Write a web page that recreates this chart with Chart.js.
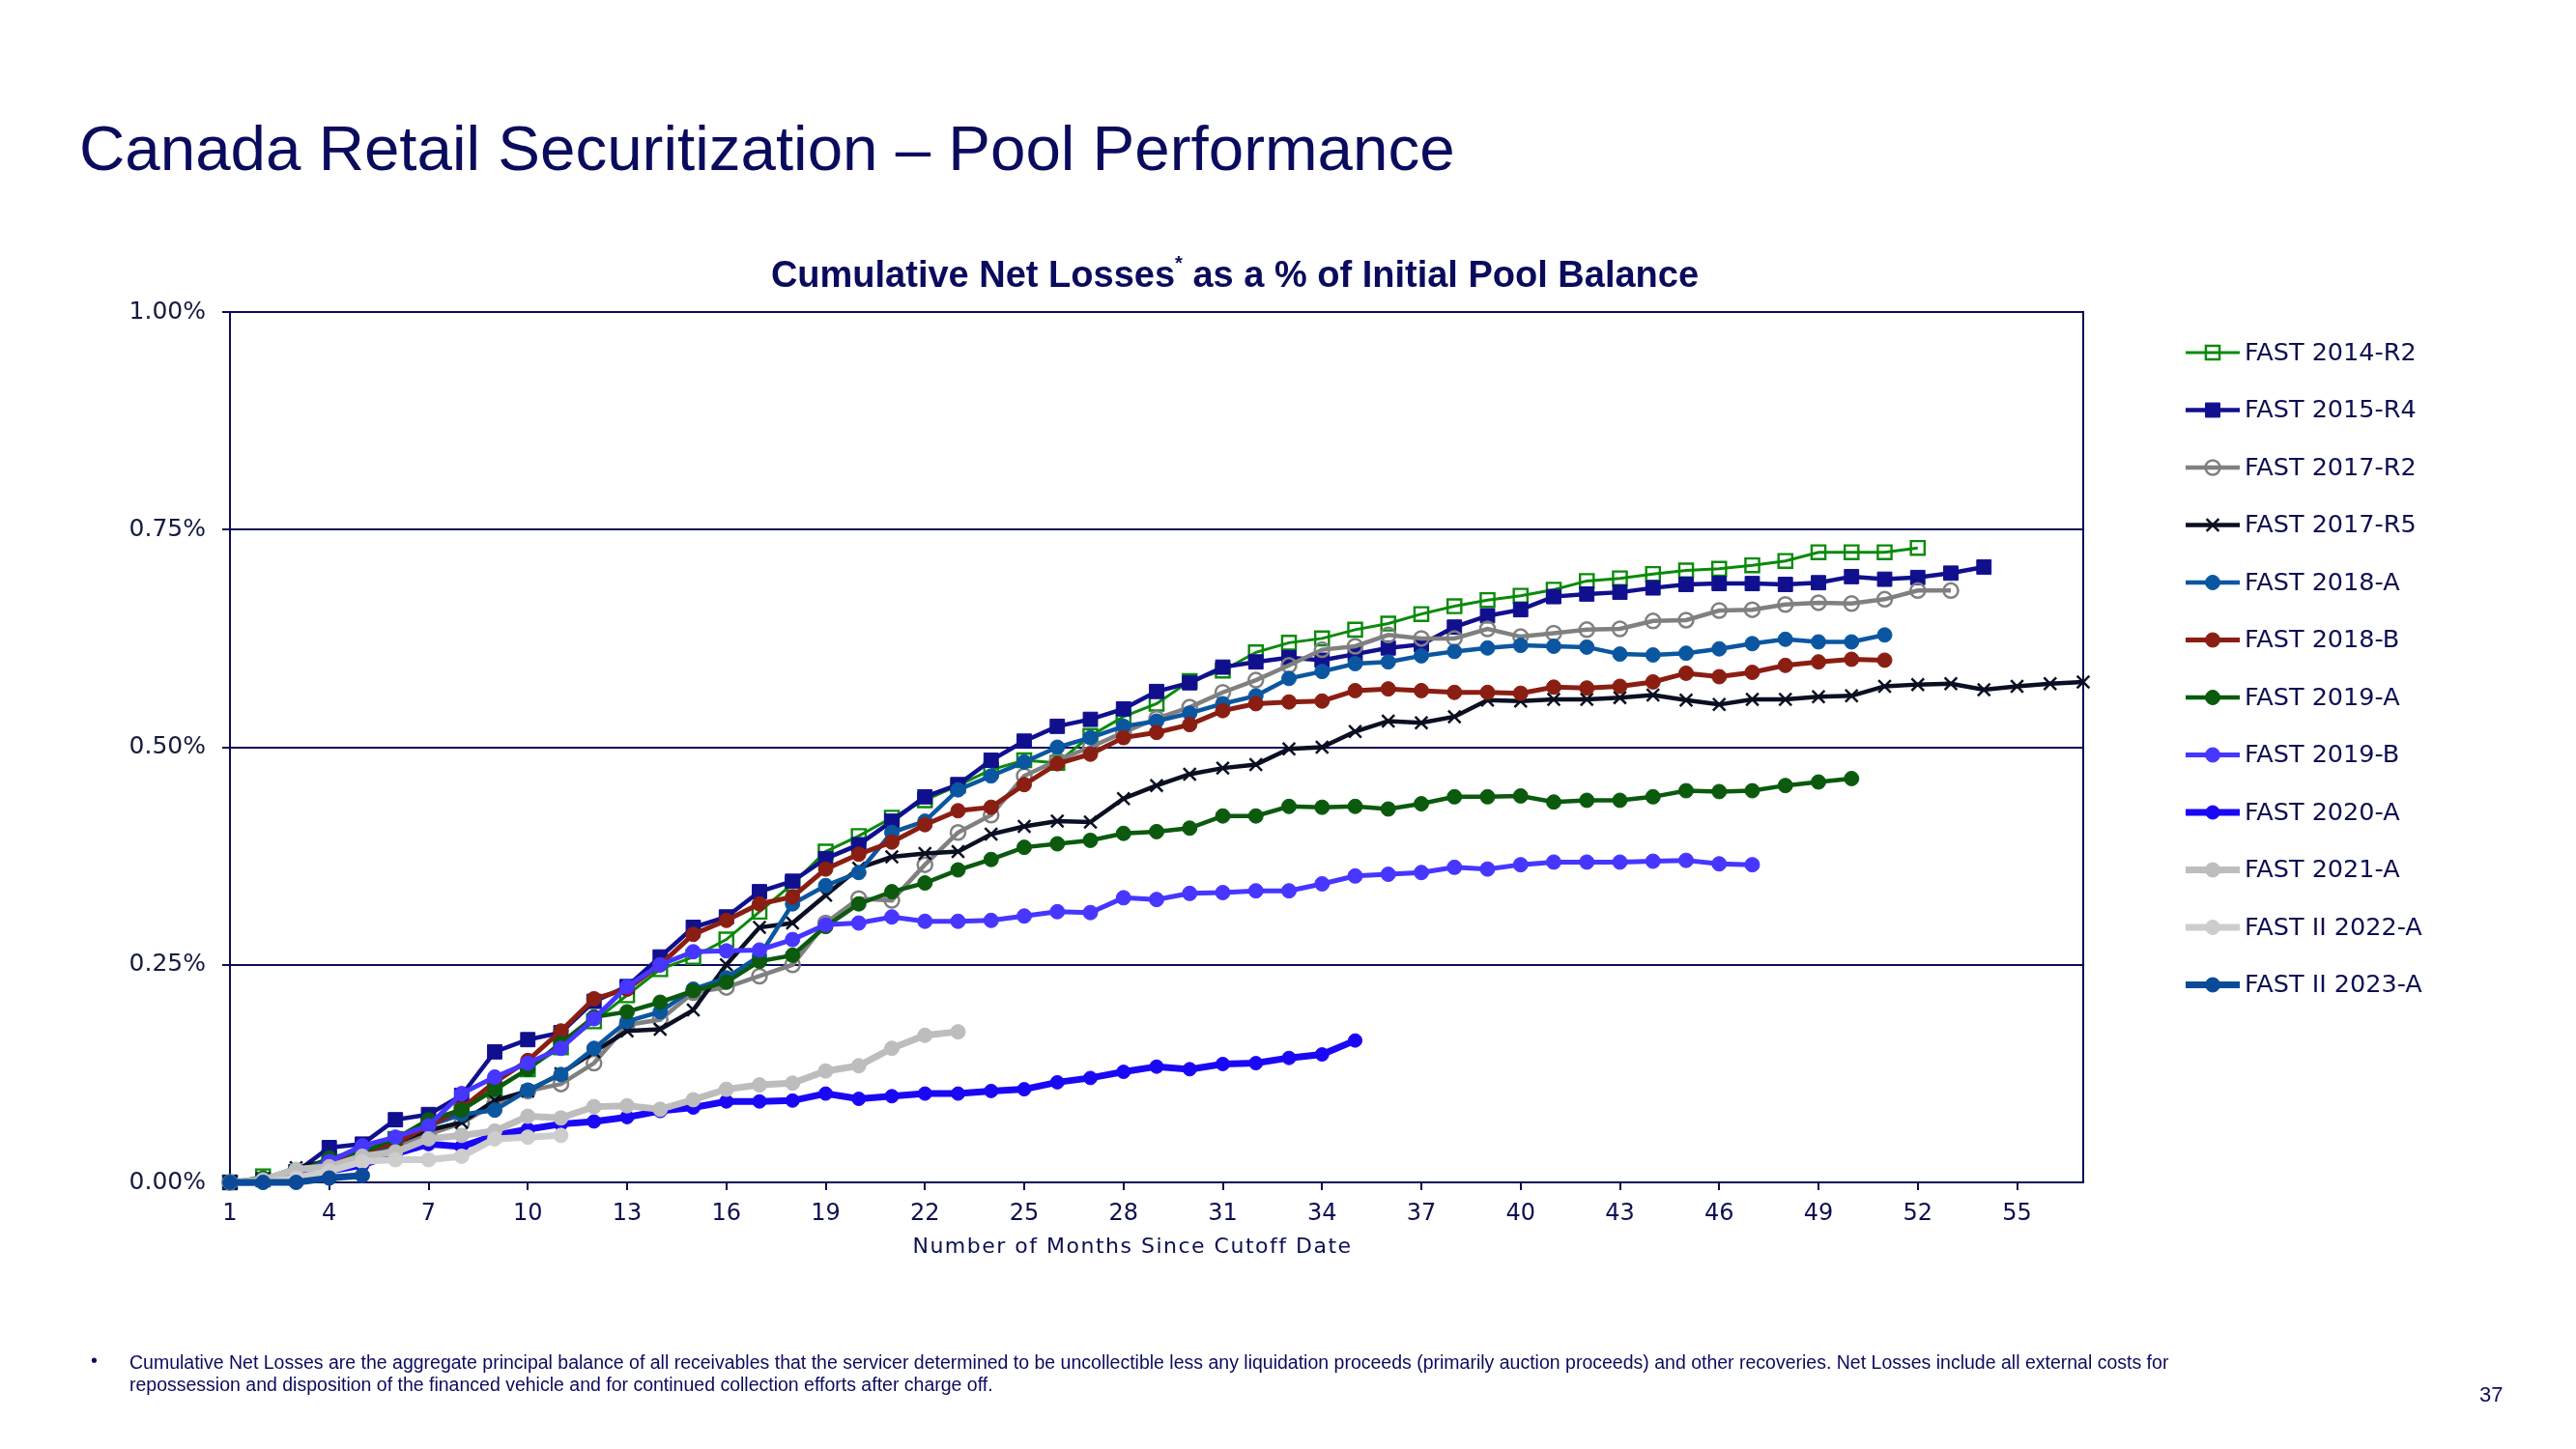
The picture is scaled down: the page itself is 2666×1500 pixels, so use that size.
<!DOCTYPE html>
<html>
<head>
<meta charset="utf-8">
<script src="https://cdn.jsdelivr.net/npm/chart.js@4/dist/chart.umd.min.js"></script>
<style>
html,body{margin:0;padding:0;background:#fff;}
body{width:2666px;height:1500px;position:relative;overflow:hidden;font-family:"Liberation Sans",Arial,sans-serif;}
#c{position:absolute;left:0;top:0;}
.t{position:absolute;white-space:nowrap;line-height:1;color:#0b0b5e;}
#title{left:82px;top:121px;font-size:65.5px;}
#ctitle{left:1278px;top:265px;transform:translateX(-50%);font-size:38px;font-weight:bold;}
#ctitle sup{font-size:20px;vertical-align:top;position:relative;top:-3px;}
#bullet{left:94px;top:1399px;font-size:19.5px;}
#foot{left:134px;top:1399px;font-size:19.5px;line-height:23px;}
#page{left:2566px;top:1433px;font-size:22px;}
</style>
</head>
<body>
<canvas id="c" width="2666" height="1500"></canvas>
<div class="t" id="title">Canada Retail Securitization – Pool Performance</div>
<div class="t" id="ctitle">Cumulative Net Losses<sup>*</sup> as a % of Initial Pool Balance</div>
<div class="t" id="bullet">•</div>
<div class="t" id="foot">Cumulative Net Losses are the aggregate principal balance of all receivables that the servicer determined to be uncollectible less any liquidation proceeds (primarily auction proceeds) and other recoveries. Net Losses include all external costs for<br>repossession and disposition of the financed vehicle and for continued collection efforts after charge off.</div>
<div class="t" id="page">37</div>
<script>
// ---- categories / ticks ----
const months = [1,2,3,4,5,6,7,8,9,10,11,12,13,14,15,16,17,18,19,20,21,22,23,24,25,26,27,28,29,30,31,32,33,34,35,36,37,38,39,40,41,42,43,44,45,46,47,48,49,50,51,52,53,54,55,56,57];
const xTickValues = [1,4,7,10,13,16,19,22,25,28,31,34,37,40,43,46,49,52,55];
const xTickLabels = ['1','4','7','10','13','16','19','22','25','28','31','34','37','40','43','46','49','52','55'];
const yTickValues = [0,0.25,0.5,0.75,1.0];
const yTickLabels = ['0.00%','0.25%','0.50%','0.75%','1.00%'];
const xAxisTitle = 'Number of Months Since Cutoff Date';

// ---- series (cumulative net losses, % of initial pool balance) ----
const seriesNames = ['FAST 2014-R2','FAST 2015-R4','FAST 2017-R2','FAST 2017-R5','FAST 2018-A','FAST 2018-B','FAST 2019-A','FAST 2019-B','FAST 2020-A','FAST 2021-A','FAST II 2022-A','FAST II 2023-A'];
const fast2014R2 = [0,0.007,0.012,0.028,0.035,0.05,0.068,0.085,0.105,0.13,0.155,0.185,0.215,0.245,0.259,0.279,0.311,0.343,0.38,0.398,0.419,0.439,0.456,0.474,0.485,0.482,0.513,0.535,0.55,0.576,0.588,0.609,0.62,0.625,0.635,0.642,0.653,0.662,0.669,0.674,0.681,0.691,0.694,0.699,0.703,0.705,0.709,0.714,0.724,0.724,0.724,0.729];
const fast2015R4 = [0,0.003,0.012,0.04,0.044,0.072,0.078,0.1,0.15,0.164,0.172,0.208,0.225,0.259,0.293,0.305,0.334,0.346,0.372,0.388,0.415,0.443,0.457,0.485,0.507,0.524,0.532,0.544,0.564,0.574,0.592,0.598,0.603,0.6,0.607,0.614,0.618,0.638,0.651,0.658,0.673,0.676,0.678,0.683,0.687,0.688,0.688,0.687,0.689,0.696,0.693,0.695,0.7,0.707];
const fast2017R2 = [0,0.003,0.01,0.025,0.03,0.04,0.055,0.068,0.09,0.105,0.113,0.137,0.181,0.187,0.218,0.224,0.237,0.25,0.298,0.326,0.324,0.365,0.402,0.422,0.467,0.485,0.5,0.517,0.533,0.546,0.563,0.577,0.594,0.612,0.616,0.629,0.625,0.625,0.636,0.627,0.631,0.635,0.636,0.645,0.646,0.657,0.658,0.664,0.666,0.665,0.67,0.68,0.68];
const fast2017R5 = [0,0.003,0.017,0.025,0.035,0.045,0.06,0.069,0.094,0.105,0.125,0.15,0.174,0.176,0.198,0.25,0.293,0.298,0.33,0.361,0.374,0.378,0.38,0.4,0.409,0.415,0.414,0.441,0.456,0.469,0.476,0.48,0.498,0.5,0.518,0.53,0.528,0.535,0.554,0.553,0.555,0.555,0.557,0.56,0.554,0.549,0.555,0.555,0.558,0.559,0.57,0.572,0.573,0.566,0.57,0.573,0.575];
const fast2018A = [0,0.002,0.008,0.02,0.03,0.045,0.065,0.078,0.083,0.106,0.124,0.154,0.185,0.196,0.222,0.235,0.26,0.32,0.341,0.356,0.402,0.415,0.451,0.467,0.483,0.5,0.511,0.524,0.53,0.539,0.55,0.559,0.579,0.587,0.596,0.598,0.605,0.61,0.614,0.617,0.616,0.615,0.607,0.606,0.608,0.613,0.619,0.624,0.621,0.621,0.629];
const fast2018B = [0,0.002,0.01,0.025,0.035,0.045,0.065,0.085,0.115,0.14,0.174,0.211,0.222,0.25,0.285,0.301,0.32,0.328,0.36,0.377,0.391,0.411,0.427,0.431,0.457,0.481,0.492,0.511,0.517,0.526,0.542,0.55,0.552,0.553,0.565,0.567,0.565,0.563,0.563,0.562,0.569,0.568,0.57,0.575,0.585,0.581,0.586,0.594,0.598,0.601,0.6];
const fast2019A = [0,0.005,0.01,0.028,0.035,0.05,0.072,0.083,0.107,0.13,0.16,0.19,0.196,0.207,0.22,0.23,0.254,0.261,0.294,0.32,0.334,0.344,0.359,0.371,0.385,0.389,0.393,0.401,0.403,0.407,0.421,0.421,0.432,0.431,0.432,0.429,0.435,0.443,0.443,0.444,0.437,0.439,0.439,0.443,0.45,0.449,0.45,0.456,0.46,0.464];
const fast2019B = [0,0.002,0.01,0.024,0.042,0.052,0.065,0.102,0.121,0.137,0.154,0.188,0.225,0.25,0.265,0.266,0.267,0.279,0.296,0.298,0.305,0.3,0.3,0.301,0.306,0.311,0.31,0.327,0.325,0.332,0.333,0.335,0.335,0.343,0.352,0.354,0.356,0.362,0.36,0.365,0.368,0.368,0.368,0.369,0.37,0.366,0.365];
const fast2020A = [0,0,0.003,0.013,0.02,0.033,0.044,0.041,0.054,0.061,0.067,0.07,0.075,0.082,0.086,0.093,0.093,0.094,0.102,0.096,0.099,0.102,0.102,0.105,0.107,0.115,0.12,0.127,0.133,0.13,0.136,0.137,0.143,0.147,0.163];
const fast2021A = [0,0.003,0.015,0.018,0.03,0.035,0.05,0.054,0.059,0.076,0.074,0.087,0.088,0.084,0.095,0.107,0.112,0.114,0.128,0.134,0.154,0.169,0.173];
const fastII2022A = [0,0,0.005,0.013,0.024,0.026,0.026,0.03,0.05,0.052,0.054];
const fastII2023A = [0,0,0,0.005,0.008];
const seriesValues = [fast2014R2,fast2015R4,fast2017R2,fast2017R5,fast2018A,fast2018B,fast2019A,fast2019B,fast2020A,fast2021A,fastII2022A,fastII2023A];

// ---- styles ----
const NAVY = '#0b0c55';
const TEXT = '#0c0f52';
const styles = [
  {color:'#0a8a0a', fill:'rgba(0,0,0,0)', pt:'rect', r:10, bw:3, pbw:2.4},
  {color:'#10108f', fill:'#10108f', pt:'rect', r:10.5, bw:4.5, pbw:1},
  {color:'#808080', fill:'rgba(0,0,0,0)', pt:'circle', r:7.5, bw:4.5, pbw:2.5},
  {color:'#0a0f22', fill:'#0a0f22', pt:'crossRot', r:9, bw:4.5, pbw:2.5},
  {color:'#0b56a0', fill:'#0b56a0', pt:'circle', r:7.5, bw:4.5, pbw:1},
  {color:'#8b1e12', fill:'#8b1e12', pt:'circle', r:7.5, bw:5, pbw:1},
  {color:'#0b5a0e', fill:'#0b5a0e', pt:'circle', r:7.5, bw:4.5, pbw:1},
  {color:'#4636ff', fill:'#4636ff', pt:'circle', r:7.5, bw:5, pbw:1},
  {color:'#1a08f5', fill:'#1a08f5', pt:'circle', r:7, bw:7, pbw:1},
  {color:'#bdbdbd', fill:'#bdbdbd', pt:'circle', r:7.5, bw:7, pbw:1},
  {color:'#cdcdcd', fill:'#cdcdcd', pt:'circle', r:7.5, bw:7, pbw:1},
  {color:'#0a4a98', fill:'#0a4a98', pt:'circle', r:7.5, bw:7, pbw:1}
];

const N = seriesNames.length;
const datasets = seriesNames.map((name,i)=>({
  label:name,
  data:seriesValues[i],
  borderColor:styles[i].color,
  backgroundColor:styles[i].fill,
  borderWidth:styles[i].bw,
  pointStyle:styles[i].pt,
  pointRadius:styles[i].r,
  pointBackgroundColor:styles[i].fill,
  pointBorderColor:styles[i].color,
  pointBorderWidth:styles[i].pbw,
  tension:0,
  fill:false,
  clip:false,
  order:N-1-i
}));

const framePlugin = {
  id:'frame',
  beforeDatasetsDraw(chart){
    const a = chart.chartArea, ctx = chart.ctx;
    ctx.save();
    ctx.strokeStyle = NAVY; ctx.lineWidth = 2;
    ctx.strokeRect(a.left, a.top, a.right-a.left, a.bottom-a.top);
    ctx.restore();
  }
};

const LEG = {x0:2262, x1:2318, xm:2290, xt:2323, y0:365, dy:59.5};
const legendPlugin = {
  id:'customLegend',
  afterDraw(chart){
    const ctx = chart.ctx;
    chart.data.datasets.forEach((ds,i)=>{
      const y = LEG.y0 + i*LEG.dy;
      ctx.save();
      ctx.strokeStyle = ds.borderColor; ctx.lineWidth = ds.borderWidth;
      ctx.beginPath(); ctx.moveTo(LEG.x0,y); ctx.lineTo(LEG.x1,y); ctx.stroke();
      ctx.fillStyle = ds.pointBackgroundColor; ctx.strokeStyle = ds.pointBorderColor; ctx.lineWidth = ds.pointBorderWidth;
      Chart.helpers.drawPoint(ctx,{pointStyle:ds.pointStyle, radius:ds.pointRadius, borderWidth:ds.pointBorderWidth, rotation:0}, LEG.xm, y);
      ctx.fillStyle = TEXT; ctx.font = '25.5px "DejaVu Sans"'; ctx.textBaseline = 'middle'; ctx.textAlign = 'left';
      ctx.fillText(ds.label, LEG.xt, y+1);
      ctx.restore();
    });
    // x-axis title (letter-spaced)
    ctx.save();
    ctx.fillStyle = TEXT; ctx.font = '22px "DejaVu Sans"'; ctx.textBaseline='middle'; ctx.textAlign='center';
    if ('letterSpacing' in ctx) ctx.letterSpacing = '1.5px';
    ctx.fillText(xAxisTitle, 1172, 1291);
    ctx.restore();
  }
};

new Chart(document.getElementById('c'), {
  type:'line',
  data:{labels:months, datasets:datasets},
  options:{
    responsive:false, animation:false, devicePixelRatio:1,
    layout:{padding:{left:0, right:510, top:323, bottom:176}},
    plugins:{legend:{display:false}, title:{display:false}, tooltip:{enabled:false}},
    scales:{
      x:{type:'linear', min:1, max:57,
        afterBuildTicks(s){ s.ticks = xTickValues.map(v=>({value:v})); },
        afterFit(s){ s.height = 100; },
        grid:{drawOnChartArea:false, drawTicks:true, tickLength:8, color:NAVY, lineWidth:2},
        border:{display:true, color:NAVY, width:2},
        ticks:{autoSkip:false, maxRotation:0, minRotation:0, padding:10, color:TEXT,
          font:{family:'DejaVu Sans', size:24}, callback:(v,i)=>xTickLabels[i]}
      },
      y:{type:'linear', min:0, max:1,
        afterBuildTicks(s){ s.ticks = yTickValues.map(v=>({value:v})); },
        afterFit(s){ s.width = 238; },
        grid:{color:NAVY, lineWidth:2, tickLength:8},
        border:{display:true, color:NAVY, width:2},
        ticks:{padding:17, color:'#141a3e', font:{family:'DejaVu Sans', size:25}, callback:(v,i)=>yTickLabels[i]}
      }
    }
  },
  plugins:[framePlugin, legendPlugin]
});
</script>
</body>
</html>
